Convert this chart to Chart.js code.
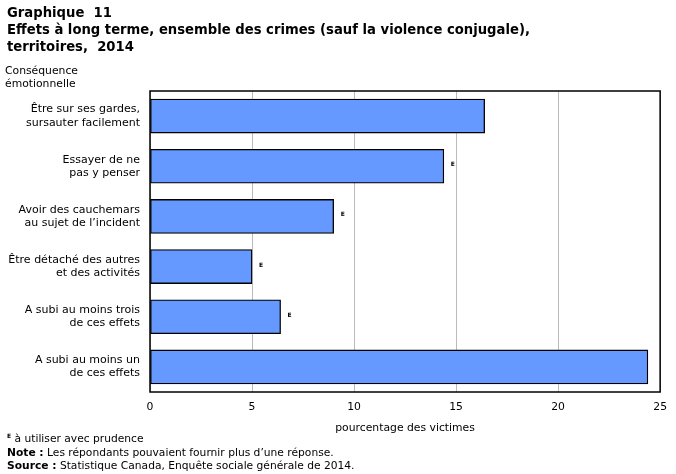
<!DOCTYPE html>
<html><head><meta charset="utf-8">
<script src="https://cdn.jsdelivr.net/npm/chart.js@4.4.1/dist/chart.umd.min.js"></script>
<style>
html,body{margin:0;padding:0;background:#fff;}
#wrap{position:relative;width:676px;height:474px;overflow:hidden;}
canvas{position:absolute;left:0;top:0;}
.t{position:absolute;left:7px;font-family:"DejaVu Sans",sans-serif;font-weight:bold;font-size:13.2px;color:#000;line-height:17px;white-space:nowrap;}
.yt{position:absolute;left:5px;top:64px;font-family:"DejaVu Sans",sans-serif;font-size:10.8px;line-height:13px;color:#000;}
.fn{position:absolute;left:7px;font-family:"DejaVu Sans",sans-serif;font-size:10.7px;color:#000;white-space:nowrap;line-height:13px;}
.fn b{font-weight:bold;}
sup{font-size:6px;font-weight:bold;vertical-align:4px;line-height:0;}
</style></head>
<body><div id="wrap">
<canvas id="c" width="676" height="474"></canvas>
<div class="t" style="top:4px;">Graphique&nbsp; 11</div>
<div class="t" style="top:21px;">Effets à long terme, ensemble des crimes (sauf la violence conjugale),</div>
<div class="t" style="top:38px;">territoires,&nbsp; 2014</div>
<div class="yt">Conséquence<br>émotionnelle</div>
<div class="fn" style="top:432px;"><sup>E</sup> à utiliser avec prudence</div>
<div class="fn" style="top:445.5px;"><b>Note :</b> Les répondants pouvaient fournir plus d’une réponse.</div>
<div class="fn" style="top:459px;"><b>Source :</b> Statistique Canada, Enquête sociale générale de 2014.</div>
</div>
<script>
const categories = [
  ["Être sur ses gardes,","sursauter facilement"],
  ["Essayer de ne","pas y penser"],
  ["Avoir des cauchemars","au sujet de l’incident"],
  ["Être détaché des autres","et des activités"],
  ["A subi au moins trois","de ces effets"],
  ["A subi au moins un","de ces effets"]
];
const values = [16.4, 14.4, 9.0, 5.0, 6.4, 24.4];
const flags = ["", "E", "E", "E", "E", ""];
const xTicks = [0, 5, 10, 15, 20, 25];

const FONT = "DejaVu Sans";

const framePlugin = {
  id: 'frame',
  afterDatasetsDraw(chart) {
    const {ctx} = chart;
    const meta = chart.getDatasetMeta(0);
    ctx.save();
    ctx.fillStyle = '#000';
    ctx.font = 'bold 6px "' + FONT + '"';
    ctx.textBaseline = 'middle';
    ctx.textAlign = 'left';
    meta.data.forEach((bar, i) => {
      if (flags[i]) ctx.fillText(flags[i], bar.x + 7, bar.y - 1.5);
    });
    ctx.restore();
  },
  afterDraw(chart) {
    const {ctx, chartArea: a} = chart;
    ctx.save();
    ctx.strokeStyle = '#000';
    ctx.lineWidth = 1.5;
    ctx.strokeRect(a.left, a.top, a.right - a.left, a.bottom - a.top);
    ctx.restore();
  }
};

new Chart(document.getElementById('c'), {
  type: 'bar',
  data: {
    labels: categories,
    datasets: [{
      data: values,
      backgroundColor: '#6699FF',
      borderColor: '#000',
      borderWidth: 1.3,
      borderSkipped: false,
      barThickness: 34,
      categoryPercentage: 1.0
    }]
  },
  options: {
    indexAxis: 'y',
    responsive: false,
    animation: false,
    devicePixelRatio: 1,
    layout: { padding: { top: 91, left: 0, right: 11, bottom: 35.5 } },
    plugins: { legend: { display: false }, tooltip: { enabled: false } },
    scales: {
      x: {
        min: 0, max: 25,
        afterBuildTicks(s) { s.ticks = xTicks.map(v => ({value: v})); },
        afterFit(s) { s.height = 46.5; },
        grid: { color: '#bbbbbb', lineWidth: 1, drawTicks: false },
        border: { display: false },
        ticks: { color: '#000', padding: 9, font: { family: FONT, size: 10.8 } },
        title: { display: true, text: 'pourcentage des victimes', color: '#000',
                 font: { family: FONT, size: 10.8 }, padding: { top: 4, bottom: 4 } }
      },
      y: {
        afterFit(s) { s.width = 150; },
        grid: { display: false, drawTicks: false },
        border: { display: false },
        ticks: { color: '#000', padding: 10, font: { family: FONT, size: 11, lineHeight: 1.2 } }
      }
    }
  },
  plugins: [framePlugin]
});
</script>
</body></html>
